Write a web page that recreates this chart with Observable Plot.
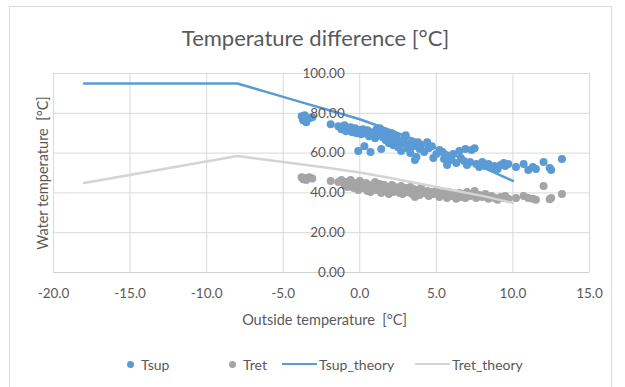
<!DOCTYPE html>
<html>
<head>
<meta charset="utf-8">
<script src="https://cdn.jsdelivr.net/npm/d3@7"></script>
<script src="https://cdn.jsdelivr.net/npm/@observablehq/plot@0.6"></script>
<style>
  html, body { margin: 0; padding: 0; background: #fff; }
  #chart { position: relative; width: 625px; height: 387px; overflow: hidden; font-family: Lato, "Open Sans", sans-serif; color: #595959; }
  #frame { position: absolute; left: 9px; top: 6px; width: 603px; height: 400px; border: 1px solid #d9d9d9; box-sizing: border-box; pointer-events: none; }
  #title { height: 60px; box-sizing: border-box; padding-top: 25px; line-height: 26px; font-size: 22px; text-align: center; padding-left: 6px; }
  #plot svg { display: block; }
  #legend { position: relative; height: 37px; font-size: 14px; }
  .item { position: absolute; top: 6px; height: 16px; display: flex; align-items: center; white-space: nowrap; }
  .dot { width: 7px; height: 7px; border-radius: 50%; margin-right: 7px; }
  .line { width: 35px; height: 2.5px; margin-right: 2px; }
</style>
</head>
<body>
<div id="chart">
  <div id="frame"></div>
  <div id="title">Temperature difference [°C]</div>
  <div id="plot"></div>
  <div id="legend"></div>
</div>
<script>
// Measured outside temperature with the matching supply and return water temperatures
const outsideTemp = [
  -3.8, -3.7, -3.6, -3.5, -3.3, -3.1, -1.9, -1.4, -1.2, -1.0, -0.9, -0.8, -0.6, -0.5, -0.4, -0.3, -0.2, -0.1,
  0.0, 0.1, 0.2, 0.3, 0.4, 0.5, 0.6, 0.7, 0.8, 0.9, 1.0, 1.1, 1.2, 1.3, 1.4, 1.5, 1.6, 1.7, 1.8, 1.9,
  2.0, 2.1, 2.2, 2.3, 2.4, 2.5, 2.6, 2.7, 2.8, 2.9, 3.0, 3.1, 3.2, 3.3, 3.4, 3.5, 3.6, 3.7, 3.8, 3.9,
  4.0, 4.2, 4.4, 4.5, 4.7, 4.8, 5.0, 5.2, 5.4, 5.5, 5.7, 5.8, 6.0, 6.1, 6.3, 6.5, 6.6, 6.8, 6.9,
  7.0, 7.2, 7.3, 7.5, 7.6, 7.8, 8.0, 8.2, 8.4, 8.6, 8.8, 9.0, 9.2, 9.4, 9.5, 9.7,
  10.2, 10.7, 11.0, 11.3, 11.5, 12.0, 12.4, 12.5, 13.2
];
const tsup = [
  78.5, 76.5, 79, 75.5, 77.5, 78, 74.5, 73.5, 72, 74, 71, 72.5, 73, 70.5, 71.5, 72.5, 70, 61,
  71.5, 69.5, 72, 63.5, 70, 71.5, 68.5, 60.5, 70.5, 69, 67.5, 72, 70.5, 72.5, 62, 68, 71, 66.5, 69.5, 65,
  67.5, 70, 64, 66.5, 68.5, 63, 66, 61, 65, 67.5, 69, 62.5, 64.5, 60, 66, 63.5, 56.5, 58, 65.5, 62,
  64, 60.5, 65.5, 62.5, 63.5, 57.5, 59.5, 61.5, 60.5, 57, 54, 58, 56.5, 59.5, 55, 61, 57.5, 56, 62,
  54, 55.5, 61.5, 62.5, 54.5, 53, 55.5, 53.5, 54.5, 52.5, 53.5, 52, 54, 55, 53.5, 54.5,
  53, 54.5, 51.5, 53, 52, 55.5, 52.5, 51.5, 57
];
const tret = [
  47.9, 46.8, 47.5, 46.5, 47.9, 47.2, 46, 45.5, 46.5, 44, 45.5, 43, 46.5, 44.5, 42.5, 45, 43.5, 41.5,
  46, 44, 42.5, 43.5, 45, 41, 44, 40.5, 43, 42, 45.5, 41.5, 43.5, 44.5, 40, 42.5, 44, 41, 43, 39.5,
  42, 44, 40.5, 43, 41.5, 42.5, 40, 43.5, 39.5, 41.5, 42.5, 40.5, 41, 43, 39.5, 42, 38, 40.5, 41.5, 39,
  42.5, 40, 41, 38.5, 40.5, 39.5, 41, 38, 40, 39, 37.5, 40.5, 38.5, 39.5, 37, 40, 38, 39.5, 37.5,
  40.5, 38.5, 39, 41, 37.5, 39, 38, 39.5, 37, 38.5, 37.5, 36.5, 38, 37.5, 38.5, 37,
  37.5, 38.5, 37.5, 37, 36.5, 43.5, 36.8, 37.5, 39.5
];

// Design heating curve (theory)
const theoryTemp = [-18, -8, -6, -4, -2, 0, 2, 4, 6, 8, 10];
const tsupTheory = [95, 95, 90.5, 86, 81.5, 77, 71.5, 65.5, 59.5, 53, 46];
const tretTheory = [45, 58.5, 56.5, 54.5, 52.5, 50.3, 47.5, 44.5, 41.5, 38.5, 35];

// Axis ticks
const xTicks = [-20, -15, -10, -5, 0, 5, 10, 15];
const yTicks = [0, 20, 40, 60, 80, 100];

const seriesNames = ["Tsup", "Tret", "Tsup_theory", "Tret_theory"];
const seriesColors = ["#5b9bd5", "#a5a5a5", "#5b9bd5", "#d4d4d4"];

const measured = outsideTemp.map((t, i) => ({t, sup: tsup[i], ret: tret[i]}));
const theory = theoryTemp.map((t, i) => ({t, sup: tsupTheory[i], ret: tretTheory[i]}));

const gridColor = "#d9d9d9";
const textColor = "#595959";

const chart = Plot.plot({
  width: 625,
  height: 290,
  marginLeft: 53,
  marginRight: 36,
  marginTop: 13,
  marginBottom: 78,
  style: {fontFamily: "Lato, 'Open Sans', sans-serif", fontSize: "13.5px", color: textColor, background: "transparent"},
  x: {domain: [-20, 15], ticks: xTicks},
  y: {domain: [0, 100], ticks: yTicks},
  marks: [
    Plot.gridX(xTicks, {stroke: gridColor, strokeOpacity: 1}),
    Plot.gridY(yTicks, {stroke: gridColor, strokeOpacity: 1}),
    Plot.ruleY([0], {stroke: "#cfcfcf"}),
    Plot.dot(measured, {x: "t", y: "sup", r: 4, fill: seriesColors[0], stroke: null}),
    Plot.dot(measured, {x: "t", y: "ret", r: 4, fill: seriesColors[1], stroke: null}),
    Plot.line(theory, {x: "t", y: "sup", stroke: seriesColors[2], strokeWidth: 2.5}),
    Plot.line(theory, {x: "t", y: "ret", stroke: seriesColors[3], strokeWidth: 2.5}),
    Plot.axisX(xTicks, {tickSize: 0, tickPadding: 16, tickFormat: d => d.toFixed(1), fill: textColor, label: null}),
    Plot.axisY(yTicks, {ticks: [], tickSize: 0, label: null, text: null}),
    // vertical axis crosses at an outside temperature of 0
    Plot.text(yTicks, {x: () => 0, y: d => d, text: d => d.toFixed(2), textAnchor: "end", dx: -15, fill: textColor}),
    Plot.text(["Outside temperature\u00a0 [°C]"], {frameAnchor: "bottom", dy: 52, dx: 3, fill: textColor, fontSize: 14.5}),
    Plot.text(["Water temperature\u00a0 [°C]"], {frameAnchor: "left", textAnchor: "middle", rotate: -90, dx: -10, fill: textColor, fontSize: 14.5})
  ]
});
document.getElementById("plot").appendChild(chart);

// Legend below the chart
const legendLeft = [127, 229, 282, 415];
const legend = document.getElementById("legend");
seriesNames.forEach((name, i) => {
  const item = document.createElement("div");
  item.className = "item";
  item.style.left = legendLeft[i] + "px";
  const sw = document.createElement("span");
  sw.className = i < 2 ? "dot" : "line";
  sw.style.background = seriesColors[i];
  item.appendChild(sw);
  const label = document.createElement("span");
  label.textContent = name;
  item.appendChild(label);
  legend.appendChild(item);
});
</script>
</body>
</html>
